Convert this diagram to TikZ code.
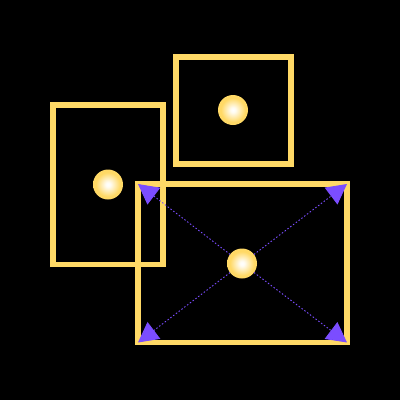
\documentclass[tikz,border=0pt]{standalone}
\usetikzlibrary{arrows.meta}
\definecolor{gold}{HTML}{FFD966}
\definecolor{myviolet}{HTML}{7B4DFF}
\pgfdeclareradialshading{glow}{\pgfpoint{0bp}{0bp}}{color(0bp)=(white); color(4bp)=(white!92!gold); color(20bp)=(gold); color(50bp)=(gold)}
\begin{document}
\begin{tikzpicture}[x=1pt,y=-1pt,
  frame/.style={draw=gold,line width=5.5pt,inner sep=0pt,outer sep=0pt,rectangle},
  dot/.style={circle,inner sep=0pt,outer sep=0pt,minimum size=30pt,shading=glow},
  link/.style={draw=myviolet,line width=0.9pt,dash pattern=on 1.5pt off 2pt,-{Triangle[length=20pt,width=21pt,fill=myviolet]}}]
\fill[black] (0,0) rectangle (400,400);
\useasboundingbox (0,0) rectangle (400,400);
\node[frame,minimum width=115pt,minimum height=107pt] (r1) at (233.5,110.5) {};
\node[frame,minimum width=110pt,minimum height=159.5pt] (r2) at (108,184.75) {};
\node[frame,minimum width=209pt,minimum height=158.5pt] (r3) at (242.5,263.25) {};
\node[dot] (c1) at (233,110) {};
\node[dot] (c2) at (108,184.5) {};
\node[dot] (c3) at (242,263.5) {};
\draw[link] (c3) -- (r3.north west);
\draw[link] (c3) -- (r3.north east);
\draw[link] (c3) -- (r3.south west);
\draw[link] (c3) -- (r3.south east);
\end{tikzpicture}
\end{document}
